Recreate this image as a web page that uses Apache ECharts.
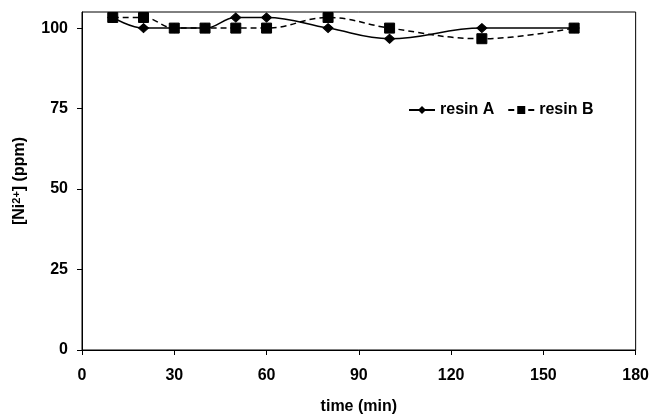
<!DOCTYPE html>
<html><head><meta charset="utf-8">
<script src="https://cdn.jsdelivr.net/npm/echarts@6/dist/echarts.min.js"></script>
<style>html,body{margin:0;padding:0;background:#fff}#c{width:652px;height:420px}</style>
</head><body><div id="c"></div>
<script>
const times = [10, 20, 30, 40, 50, 60, 80, 100, 130, 160];
const resinA = [103.3, 100, 100, 100, 103.3, 103.3, 100, 96.7, 100, 100];
const resinB = [103.3, 103.3, 100, 100, 100, 100, 103.3, 100, 96.7, 100];
const xTicks = [0, 30, 60, 90, 120, 150, 180];
const yTicks = [0, 25, 50, 75, 100];

const font = '"Liberation Sans", Arial, sans-serif';
const chart = echarts.init(document.getElementById('c'), null, {renderer: 'canvas'});
chart.setOption({
  animation: false,
  backgroundColor: '#fff',
  grid: {left: 82, right: 16, top: 12, bottom: 65, show: true, borderColor: '#000', borderWidth: 1},
  legend: {
    left: 403, top: 97, itemWidth: 26, itemHeight: 10, itemGap: 13,
    textStyle: {fontFamily: font, fontWeight: 'bold', fontSize: 16, color: '#000'},
    data: ['resin A', 'resin B']
  },
  xAxis: {
    type: 'value', min: 0, max: 180, interval: 30,
    name: 'time (min)', nameLocation: 'middle', nameGap: 49,
    nameTextStyle: {fontFamily: font, fontWeight: 'bold', fontSize: 16, color: '#000'},
    axisLine: {show: true, lineStyle: {color: '#000', width: 1}},
    axisTick: {show: true, length: 5, lineStyle: {color: '#000'}},
    axisLabel: {fontFamily: font, fontWeight: 'bold', fontSize: 16, color: '#000', margin: 18,
      formatter: v => xTicks.includes(v) ? String(v) : ''},
    splitLine: {show: false}
  },
  yAxis: {
    type: 'value', min: 0, max: 105, interval: 25,
    name: '[Ni{sup|2+}] (ppm)', nameLocation: 'middle', nameGap: 53,
    nameTextStyle: {fontFamily: font, fontWeight: 'bold', fontSize: 16, color: '#000',
      rich: {sup: {fontFamily: font, fontWeight: 'bold', fontSize: 11, color: '#000', verticalAlign: 'top', lineHeight: 10, padding: [0,0,8,0]}}},
    axisLine: {show: true, lineStyle: {color: '#000', width: 1}},
    axisTick: {show: true, length: 5, lineStyle: {color: '#000'}, customValues: yTicks},
    axisLabel: {fontFamily: font, fontWeight: 'bold', fontSize: 16, color: '#000', margin: 14, customValues: yTicks},
    splitLine: {show: false}
  },
  series: [
    {
      name: 'resin A', type: 'line', smooth: 0.4,
      data: times.map((t, i) => [t, resinA[i]]),
      symbol: 'diamond', symbolSize: [10, 9],
      lineStyle: {color: '#000', width: 1.5, type: 'solid'},
      itemStyle: {color: '#000', borderColor: '#000'}, z: 3
    },
    {
      name: 'resin B', type: 'line', smooth: 0.4,
      data: times.map((t, i) => [t, resinB[i]]),
      symbol: 'rect', symbolSize: 10,
      lineStyle: {color: '#000', width: 1.5, type: [6, 4]},
      itemStyle: {color: '#000', borderColor: '#000'}, z: 2
    }
  ]
});
</script></body></html>
